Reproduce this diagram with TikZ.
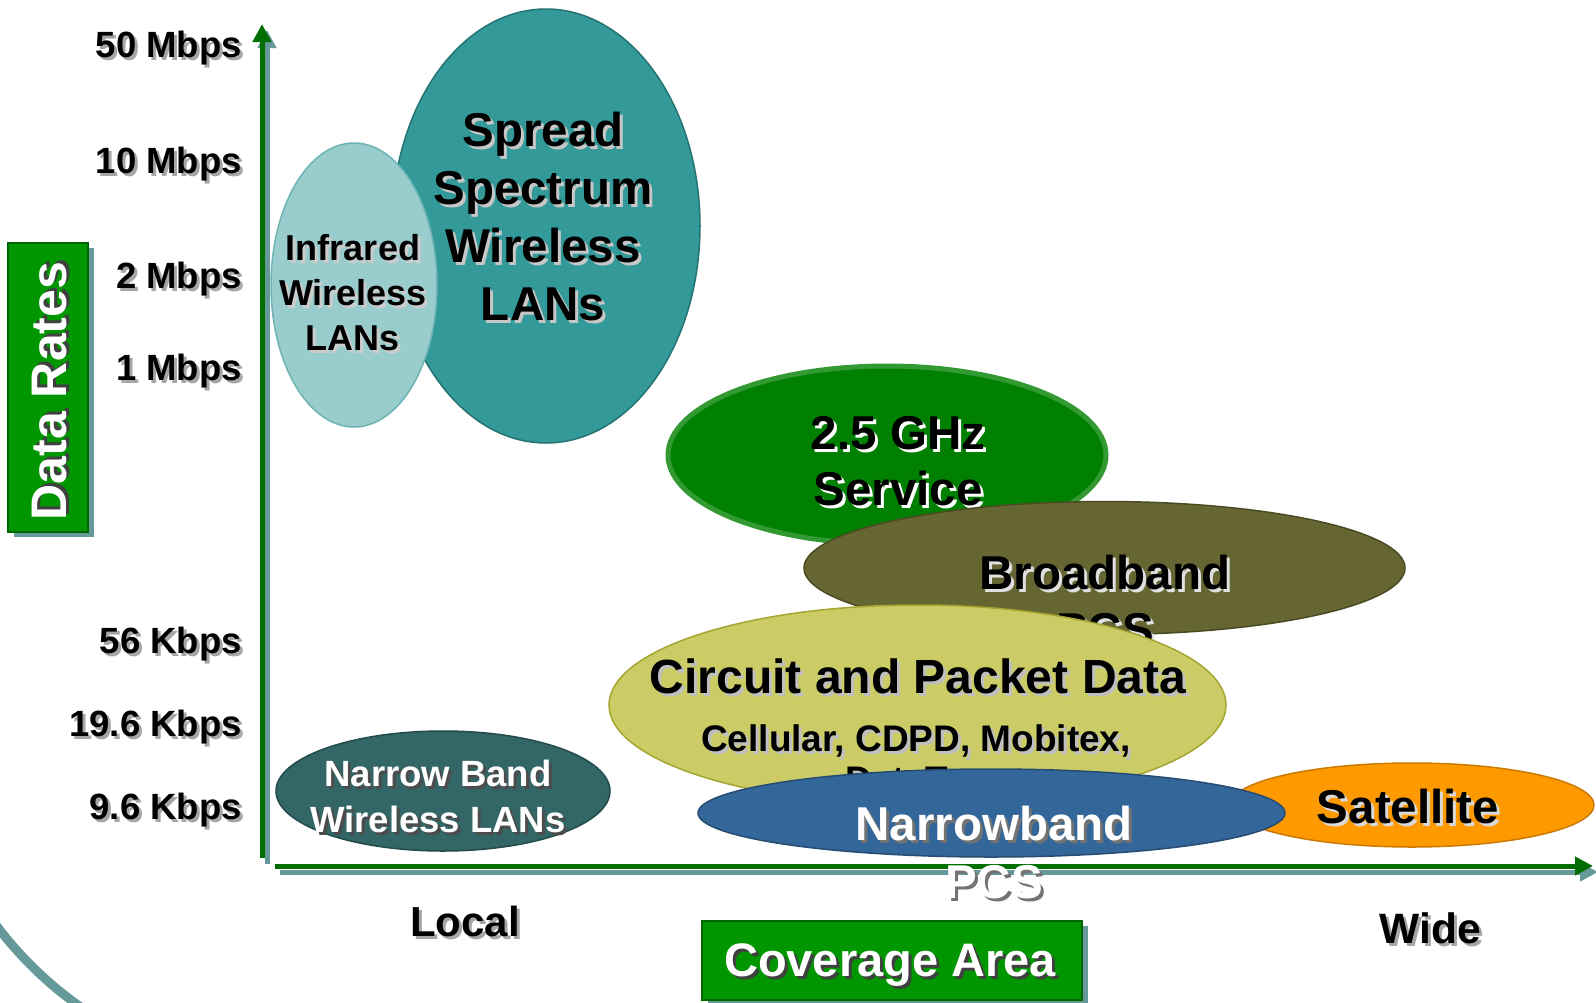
\documentclass[tikz,border=0pt]{standalone}
\usepackage{fontspec}
\setmainfont{Liberation Sans}
\usetikzlibrary{arrows.meta,shapes.geometric,shadows}

\definecolor{axisgreen}{RGB}{0,110,0}
\definecolor{shadowteal}{RGB}{102,153,153}
\definecolor{boxgreen}{RGB}{0,150,0}
\definecolor{boxborder}{RGB}{0,100,0}
\definecolor{spreadfill}{RGB}{51,153,153}
\definecolor{spreaddraw}{RGB}{38,115,115}
\definecolor{irfill}{RGB}{153,204,204}
\definecolor{irdraw}{RGB}{110,180,180}
\definecolor{ghzfill}{RGB}{0,128,0}
\definecolor{ghzdraw}{RGB}{51,153,51}
\definecolor{bbfill}{RGB}{102,102,51}
\definecolor{bbdraw}{RGB}{75,75,35}
\definecolor{cpfill}{RGB}{204,204,102}
\definecolor{cpdraw}{RGB}{165,165,50}
\definecolor{nbfill}{RGB}{51,102,153}
\definecolor{nbdraw}{RGB}{38,76,115}
\definecolor{satfill}{RGB}{255,153,0}
\definecolor{satdraw}{RGB}{204,122,0}
\definecolor{nwfill}{RGB}{51,102,102}
\definecolor{nwdraw}{RGB}{35,75,75}

% name, position, style, shadow colour, text
\newcommand{\shtxt}[5]{%
  \node[#3, text=#4, xshift=3pt, yshift=-3pt] at (#2) {#5};
  \node[#3] (#1) at (#2) {#5};
}

\tikzset{
  ell/.style={ellipse, inner sep=0pt, line width=1.5pt},
  ylab/.style={anchor=base east, inner sep=0pt, font=\fontsize{36.5}{42}\selectfont\bfseries},
  xlab/.style={anchor=base, inner sep=0pt, font=\fontsize{42}{50}\selectfont\bfseries},
  bigtxt/.style={anchor=north, inner sep=0pt, align=center, font=\fontsize{47.5}{58}\selectfont\bfseries},
  midtxt/.style={anchor=north, inner sep=0pt, align=center, font=\fontsize{36}{45}\selectfont\bfseries},
  axisline/.style={line width=5pt, draw=axisgreen, -{Triangle[width=18pt,length=18pt]}},
  axisshadow/.style={line width=5pt, draw=shadowteal, -{Triangle[width=18pt,length=18pt]}},
  titlebox/.style={draw=boxborder, fill=boxgreen, line width=1.5pt, inner sep=0pt,
    drop shadow={shadow xshift=6pt, shadow yshift=-5pt, fill=shadowteal, opacity=1}},
}

\begin{document}
\begin{tikzpicture}[x=1pt, y=-1pt]
\useasboundingbox (0,0) rectangle (1596,1002);
\fill[white] (0,0) rectangle (1596,1002);

% decorative arc, bottom left
\begin{scope}
  \clip (0,880) rectangle (200,1002);
  \draw[shadowteal, line width=9pt] (296,700) circle[radius=375pt];
\end{scope}

% Data Rates box
\node[titlebox, minimum width=80, minimum height=289] (ratesbox) at (48,387.5) {};
\shtxt{ratestxt}{50,391}{rotate=90, inner sep=0pt, text=white, font=\fontsize{50}{60}\selectfont\bfseries}{black!75}{Data Rates}

% y labels
\shtxt{l50m}{242,57}{ylab}{black!35}{50 Mbps}
\shtxt{l10m}{242,173}{ylab}{black!35}{10 Mbps}
\shtxt{l2m}{242,288}{ylab}{black!35}{2 Mbps}
\shtxt{l1m}{242,380}{ylab}{black!35}{1 Mbps}
\shtxt{l56k}{242,653}{ylab}{black!35}{56 Kbps}
\shtxt{l196k}{242,736}{ylab}{black!35}{19.6 Kbps}
\shtxt{l96k}{242,819}{ylab}{black!35}{9.6 Kbps}

% axes
\coordinate (yorig) at (262,858);
\coordinate (ytip) at (262,24);
\coordinate (xorig) at (275,866);
\coordinate (xtip) at (1593,866);
\draw[axisshadow] ([shift={(5,6)}]yorig) -- ([shift={(5,6)}]ytip);
\draw[axisline] (yorig) -- (ytip);
\draw[axisshadow] ([shift={(5,6)}]xorig) -- ([shift={(5,6)}]xtip);
\draw[axisline] (xorig) -- (xtip);

% Spread Spectrum
\node[ell, fill=spreadfill, draw=spreaddraw, minimum width=308, minimum height=434] (spread) at (546,226) {};
\shtxt{spreadtxt}{543,112}{bigtxt}{black!22}{Spread\\Spectrum\\Wireless\\LANs}

% Infrared
\node[ell, fill=irfill, draw=irdraw, minimum width=166, minimum height=284] (infrared) at (354,285) {};
\shtxt{irtxt}{353,234}{midtxt}{black!20}{Infrared\\Wireless\\LANs}

% Narrow Band Wireless LANs
\node[ell, fill=nwfill, draw=nwdraw, minimum width=334, minimum height=120] (narrowwlan) at (443,791) {};
\shtxt{nwtxt}{438,760}{midtxt, text=white, font=\fontsize{36.5}{46}\selectfont\bfseries}{black!70}{Narrow Band\\Wireless LANs}

% 2.5 GHz
\node[ell, fill=ghzfill, draw=ghzdraw, line width=5pt, minimum width=438, minimum height=178] (ghz) at (887,455) {};
\shtxt{ghztxt}{898,416}{bigtxt, font=\fontsize{47.5}{56}\selectfont\bfseries}{white}{2.5 GHz\\Service}

% Broadband PCS
\node[ell, fill=bbfill, draw=bbdraw, minimum width=601, minimum height=133] (broadband) at (1104.5,568) {};
\shtxt{bbtxt}{1105,555}{bigtxt, font=\fontsize{47.5}{57}\selectfont\bfseries}{black!12}{Broadband\\PCS}

% Circuit and Packet Data
\node[ell, fill=cpfill, draw=cpdraw, minimum width=617, minimum height=200] (circuit) at (917.5,705) {};
\shtxt{cptitle}{918,659}{bigtxt, font=\fontsize{48}{58}\selectfont\bfseries}{black!25}{Circuit and Packet Data}
\shtxt{cpsub}{916,724}{midtxt, font=\fontsize{37}{41}\selectfont\bfseries}{black!25}{Cellular, CDPD, Mobitex,\\DataTac}

% Satellite
\node[ell, fill=satfill, draw=satdraw, minimum width=364, minimum height=84] (satellite) at (1412,805) {};
\shtxt{sattxt}{1408,789}{bigtxt}{black!15}{Satellite}

% Narrowband PCS
\node[ell, fill=nbfill, draw=nbdraw, minimum width=587, minimum height=88] (narrowband) at (991.5,813) {};
\shtxt{nbtxt}{994,806}{bigtxt, text=white}{black!55}{Narrowband\\PCS}

% x labels
\shtxt{localtxt}{465,936}{xlab}{black!35}{Local}
\shtxt{widetxt}{1430,943}{xlab, font=\fontsize{42.5}{50}\selectfont\bfseries}{black!35}{Wide}

% Coverage Area box
\node[titlebox, minimum width=380, minimum height=79] (covbox) at (892,960.5) {};
\shtxt{covtxt}{890,976}{anchor=base, inner sep=0pt, text=white, font=\fontsize{47}{56}\selectfont\bfseries}{black!75}{Coverage Area}
\end{tikzpicture}
\end{document}
